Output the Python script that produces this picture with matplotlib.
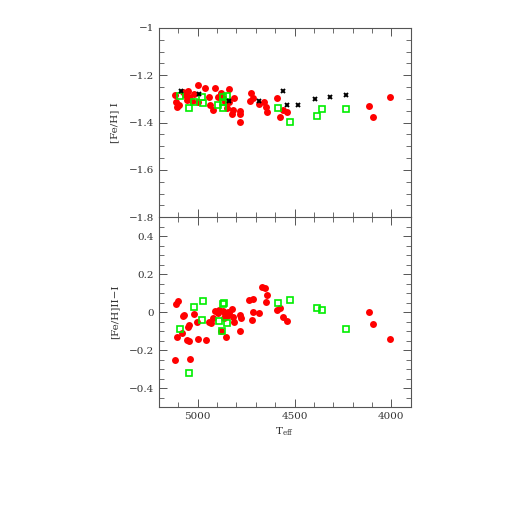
import matplotlib
matplotlib.use('Agg')
import matplotlib.pyplot as plt
from matplotlib.ticker import MultipleLocator

font = {'size': 7.5, 'family': 'DejaVu Serif'}
matplotlib.rc('font', **font)
matplotlib.rcParams['mathtext.fontset'] = 'dejavuserif'

# top panel: [Fe/H] I
red_t = [5115, 5112, 5108, 5098, 5077, 5052, 5064, 5057, 5043, 5029, 5017, 4997, 5000,
         4962, 4943, 4936, 4923, 4909, 4893, 4880, 4871, 4857, 4851, 4840, 4837, 4820,
         4823, 4811, 4782, 4780, 4780, 4725, 4713, 4730, 4682, 4656, 4648, 4644, 4593,
         4576, 4558, 4538, 4115, 4093, 4009]
red_fe1 = [-1.283, -1.314, -1.332, -1.325, -1.269, -1.265, -1.283, -1.304, -1.290, -1.308,
           -1.279, -1.243, -1.314, -1.255, -1.290, -1.325, -1.345, -1.255, -1.290, -1.276,
           -1.297, -1.314, -1.337, -1.257, -1.314, -1.347, -1.364, -1.297, -1.349, -1.364,
           -1.396, -1.276, -1.294, -1.308, -1.323, -1.314, -1.332, -1.354, -1.297, -1.375,
           -1.347, -1.355, -1.330, -1.376, -1.290]

green_t = [5091, 5043, 5021, 4979, 4974, 4893, 4871, 4868, 4868, 4849, 4588, 4524, 4383,
           4359, 4235]
green_fe1 = [-1.287, -1.340, -1.314, -1.290, -1.318, -1.325, -1.314, -1.337, -1.290, -1.286,
             -1.337, -1.396, -1.372, -1.344, -1.344]

black_t = [5086, 4991, 4837, 4686, 4558, 4538, 4481, 4394, 4318, 4237]
black_fe1 = [-1.266, -1.279, -1.308, -1.308, -1.266, -1.325, -1.325, -1.301, -1.291, -1.283]

# bottom panel: [Fe/H] II - I
red_t2 = [5115, 5112, 5101, 5108, 5081, 5077, 5072, 5052, 5055, 5046, 5043, 5038, 5021,
          5005, 4997, 4960, 4943, 4934, 4923, 4909, 4897, 4888, 4880, 4868, 4863, 4857,
          4854, 4851, 4846, 4837, 4823, 4820, 4811, 4782, 4777, 4780, 4734, 4713, 4717,
          4722, 4682, 4670, 4651, 4644, 4648, 4593, 4576, 4562, 4540, 4115, 4093, 4009]
red_diff = [-0.253, 0.042, 0.059, -0.130, -0.112, -0.020, -0.015, -0.077, -0.147, -0.068,
            -0.152, -0.244, -0.011, -0.054, -0.142, -0.144, -0.050, -0.059, -0.032, 0.008,
            -0.006, 0.012, -0.099, 0.006, -0.032, -0.011, -0.130, -0.020, 0.003, -0.006,
            0.017, -0.024, -0.050, -0.015, -0.029, -0.099, 0.065, 0.070, -0.001, -0.041,
            -0.006, 0.135, 0.126, 0.091, 0.052, 0.012, 0.020, -0.024, -0.047, 0.003,
            -0.064, -0.143]

green_t2 = [5091, 5043, 5021, 4979, 4974, 4892, 4875, 4868, 4863, 4849, 4588, 4524, 4383,
            4359, 4235]
green_diff = [-0.089, -0.318, 0.027, -0.041, 0.059, -0.047, -0.099, 0.042, 0.047, -0.059,
              0.047, 0.063, 0.024, 0.010, -0.087]


def style_axis(ax):
    ax.set_xlim(5200, 3900)
    ax.xaxis.set_major_locator(MultipleLocator(500))
    ax.xaxis.set_minor_locator(MultipleLocator(100))
    ax.yaxis.set_minor_locator(MultipleLocator(0.05))
    ax.yaxis.set_major_locator(MultipleLocator(0.2))
    ax.tick_params(which='both', direction='in', top=True, right=True, color='#555555',
                   labelcolor='#333333')
    ax.tick_params(which='major', length=6, width=0.7)
    ax.tick_params(which='minor', length=3.5, width=0.6)
    for s in ax.spines.values():
        s.set_linewidth(0.8)
        s.set_color('#555555')


fig = plt.figure(figsize=(5.18, 5.18), dpi=100)
ax1 = fig.add_axes([0.307, 0.5805, 0.486, 0.3655])
ax2 = fig.add_axes([0.307, 0.214, 0.486, 0.3665])

ax1.plot(red_t, red_fe1, 'o', color='red', markersize=5, markeredgewidth=0)
ax1.plot(green_t, green_fe1, 's', color='#00ee00', markersize=3.8, fillstyle='none',
         markeredgewidth=1.2)
ax1.plot(black_t, black_fe1, 'x', color='black', markersize=3.5, markeredgewidth=1.4)
style_axis(ax1)
ax1.set_ylim(-1.8, -1.0)
ax1.set_yticks([-1.8, -1.6, -1.4, -1.2, -1.0])
ax1.set_yticklabels(['\u22121.8', '\u22121.6', '\u22121.4', '\u22121.2', '\u22121'])
ax1.tick_params(labelbottom=False)
ax1.spines['bottom'].set_visible(False)
ax1.set_ylabel('[Fe/H] I', labelpad=7, color='#333333')

ax2.plot(red_t2, red_diff, 'o', color='red', markersize=5, markeredgewidth=0)
ax2.plot(green_t2, green_diff, 's', color='#00ee00', markersize=3.8, fillstyle='none',
         markeredgewidth=1.2)
style_axis(ax2)
ax2.set_ylim(-0.5, 0.5)
ax2.set_yticks([-0.4, -0.2, 0, 0.2, 0.4])
ax2.set_yticklabels(['\u22120.4', '\u22120.2', '0', '0.2', '0.4'])
ax2.set_ylabel('[Fe/H]II\u2212I', labelpad=7, color='#333333')
ax2.set_xlabel(r'T$_{\rm eff}$', labelpad=3, color='#333333')

plt.savefig('out.png', dpi=100)
